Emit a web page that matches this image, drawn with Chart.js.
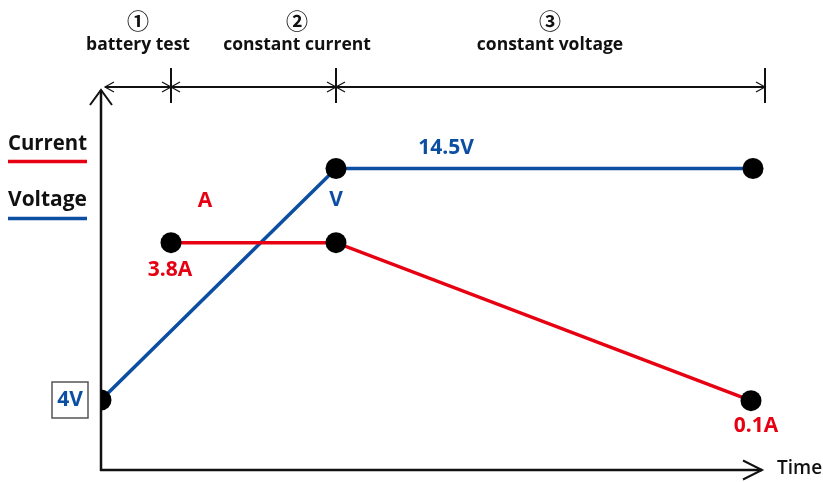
<!DOCTYPE html>
<html>
<head>
<meta charset="utf-8">
<script src="https://cdn.jsdelivr.net/npm/chart.js@4.4.1/dist/chart.umd.min.js"></script>
<style>
  body { margin: 0; background: #fff; }
  #wrap { width: 823px; height: 482px; }
</style>
</head>
<body>
<div id="wrap"><canvas id="chargeChart" width="823" height="482"></canvas></div>
<script>
// time is in arbitrary units, 0 = start of charging
const voltageTime = [0, 235, 652];
const voltageValues = [4, 14.5, 14.5];
const currentTime = [70, 235, 650];
const currentValues = [3.8, 3.8, 0.1];
const phaseEnds = [70, 235, 664];
const phaseNumbers = ['\u2460', '\u2461', '\u2462'];
const phaseNames = ['battery test', 'constant current', 'constant voltage'];

const RED = '#e60012';
const BLUE = '#0b4ea2';
const FONT = '"Open Sans", "Noto Sans", sans-serif';

const CTX = document.getElementById('chargeChart').getContext('2d');

function chevron(ctx, x, y, dx, dy, len, half) {
    // open arrow head, tip at x,y pointing along dx,dy
    const px = -dy, py = dx;
    ctx.beginPath();
    ctx.moveTo(x - dx * len + px * half, y - dy * len + py * half);
    ctx.lineTo(x, y);
    ctx.lineTo(x - dx * len - px * half, y - dy * len - py * half);
    ctx.stroke();
}

function text(ctx, str, x, y, color, size, weight, align, maxW, family) {
    ctx.font = (weight || 700) + ' ' + size + 'px ' + (family || FONT);
    ctx.fillStyle = color;
    ctx.textAlign = align || 'center';
    ctx.textBaseline = 'middle';
    if (maxW) ctx.fillText(str, x, y, maxW); else ctx.fillText(str, x, y);
}

const diagram = {
    id: 'diagram',
    beforeDatasetsDraw(chart) {
        const ctx = chart.ctx;
        const a = chart.chartArea;
        const xs = chart.scales.x;
        ctx.save();
        ctx.strokeStyle = '#111';
        ctx.lineWidth = 2.5;
        // axes
        ctx.beginPath();
        ctx.moveTo(a.left, a.top);
        ctx.lineTo(a.left, a.bottom + 1);
        ctx.moveTo(a.left - 1, a.bottom);
        ctx.lineTo(a.right, a.bottom);
        ctx.stroke();
        ctx.lineWidth = 2;
        chevron(ctx, a.left, a.top, 0, -1, 15, 11);
        chevron(ctx, a.right, a.bottom, 1, 0, 19, 9.5);

        // phase dimension line
        const dy = 87;
        const x0 = xs.getPixelForValue(4);
        const ends = phaseEnds.map(v => xs.getPixelForValue(v));
        ctx.lineWidth = 2;
        ctx.beginPath();
        ctx.moveTo(x0, dy);
        ctx.lineTo(ends[ends.length - 1], dy);
        ends.forEach(px => { ctx.moveTo(px, 68); ctx.lineTo(px, 103); });
        ctx.stroke();
        ctx.lineWidth = 1.2;
        chevron(ctx, x0, dy, -1, 0, 9, 5);
        ends.forEach((px, i) => {
            chevron(ctx, px, dy, 1, 0, 9, 5);
            if (i < ends.length - 1) chevron(ctx, px, dy, -1, 0, 9, 5);
        });
        ctx.restore();
    },
    afterDatasetsDraw(chart) {
        const ctx = chart.ctx;
        const a = chart.chartArea;
        const xs = chart.scales.x;
        const yV = chart.scales.yV;
        const yA = chart.scales.yA;
        ctx.save();

        // phase titles
        const labelX = [37, 196, 449];
        phaseNames.forEach((name, i) => {
            const px = xs.getPixelForValue(labelX[i]);
            text(ctx, phaseNumbers[i], px, 21, '#111', 22, 700, 'center', null, '"Noto Sans CJK JP", "DejaVu Sans", sans-serif');
            text(ctx, name, px, 45, '#111', 17.5, 700);
        });

        // legend
        const legend = [
            { label: chart.data.datasets[0].label, color: RED, y: 144, line: 161.5 },
            { label: chart.data.datasets[1].label, color: BLUE, y: 200, line: 218.5 }
        ];
        legend.forEach(l => {
            text(ctx, l.label, 8, l.y, '#111', 22, 700, 'left', 79);
            ctx.strokeStyle = l.color;
            ctx.lineWidth = 3.5;
            ctx.beginPath();
            ctx.moveTo(8, l.line);
            ctx.lineTo(87, l.line);
            ctx.stroke();
        });

        // value labels
        const vx = i => xs.getPixelForValue(voltageTime[i]);
        const vy = i => yV.getPixelForValue(voltageValues[i]);
        const cx = i => xs.getPixelForValue(currentTime[i]);
        const cy = i => yA.getPixelForValue(currentValues[i]);

        text(ctx, voltageValues[1] + 'V', xs.getPixelForValue(345), vy(1) - 20, BLUE, 21);
        text(ctx, 'V', vx(1), vy(1) + 32, BLUE, 21);
        text(ctx, 'A', xs.getPixelForValue(104), cy(0) - 42, RED, 21);
        text(ctx, currentValues[0] + 'A', cx(0) - 1, cy(0) + 27, RED, 21);
        text(ctx, currentValues[2] + 'A', cx(2) + 5, cy(2) + 25, RED, 21);

        // 4V boxed label
        const bx = 70, by = vy(0);
        ctx.strokeStyle = '#555';
        ctx.lineWidth = 1.5;
        ctx.strokeRect(bx - 18, by - 18, 36, 36);
        text(ctx, voltageValues[0] + 'V', bx, by, BLUE, 21);

        // x axis title
        text(ctx, 'Time', a.right + 15, a.bottom - 1, '#111', 19, 600, 'left');
        ctx.restore();
    }
};

new Chart(CTX, {
    type: 'line',
    data: {
        datasets: [{
            label: 'Current',
            data: currentTime.map((t, i) => ({ x: t, y: currentValues[i] })),
            yAxisID: 'yA',
            borderColor: RED,
            borderWidth: 3.5,
            pointRadius: 10.5,
            pointBackgroundColor: '#000',
            pointBorderWidth: 0,
            clip: false
        }, {
            label: 'Voltage',
            data: voltageTime.map((t, i) => ({ x: t, y: voltageValues[i] })),
            yAxisID: 'yV',
            borderColor: BLUE,
            borderWidth: 3.5,
            pointRadius: 10.5,
            pointBackgroundColor: '#000',
            pointBorderWidth: 0,
            clip: { left: 0, top: false, right: false, bottom: false }
        }]
    },
    options: {
        responsive: false,
        animation: false,
        layout: { padding: { left: 101, right: 61, top: 90, bottom: 12 } },
        scales: {
            x: { type: 'linear', min: 0, max: 661, display: false },
            yV: { type: 'linear', min: 0.825, max: 18.06, display: false },
            yA: { type: 'linear', min: -1.523, max: 7.376, display: false }
        },
        plugins: {
            legend: { display: false },
            tooltip: { enabled: false }
        }
    },
    plugins: [diagram]
});
</script>
</body>
</html>
